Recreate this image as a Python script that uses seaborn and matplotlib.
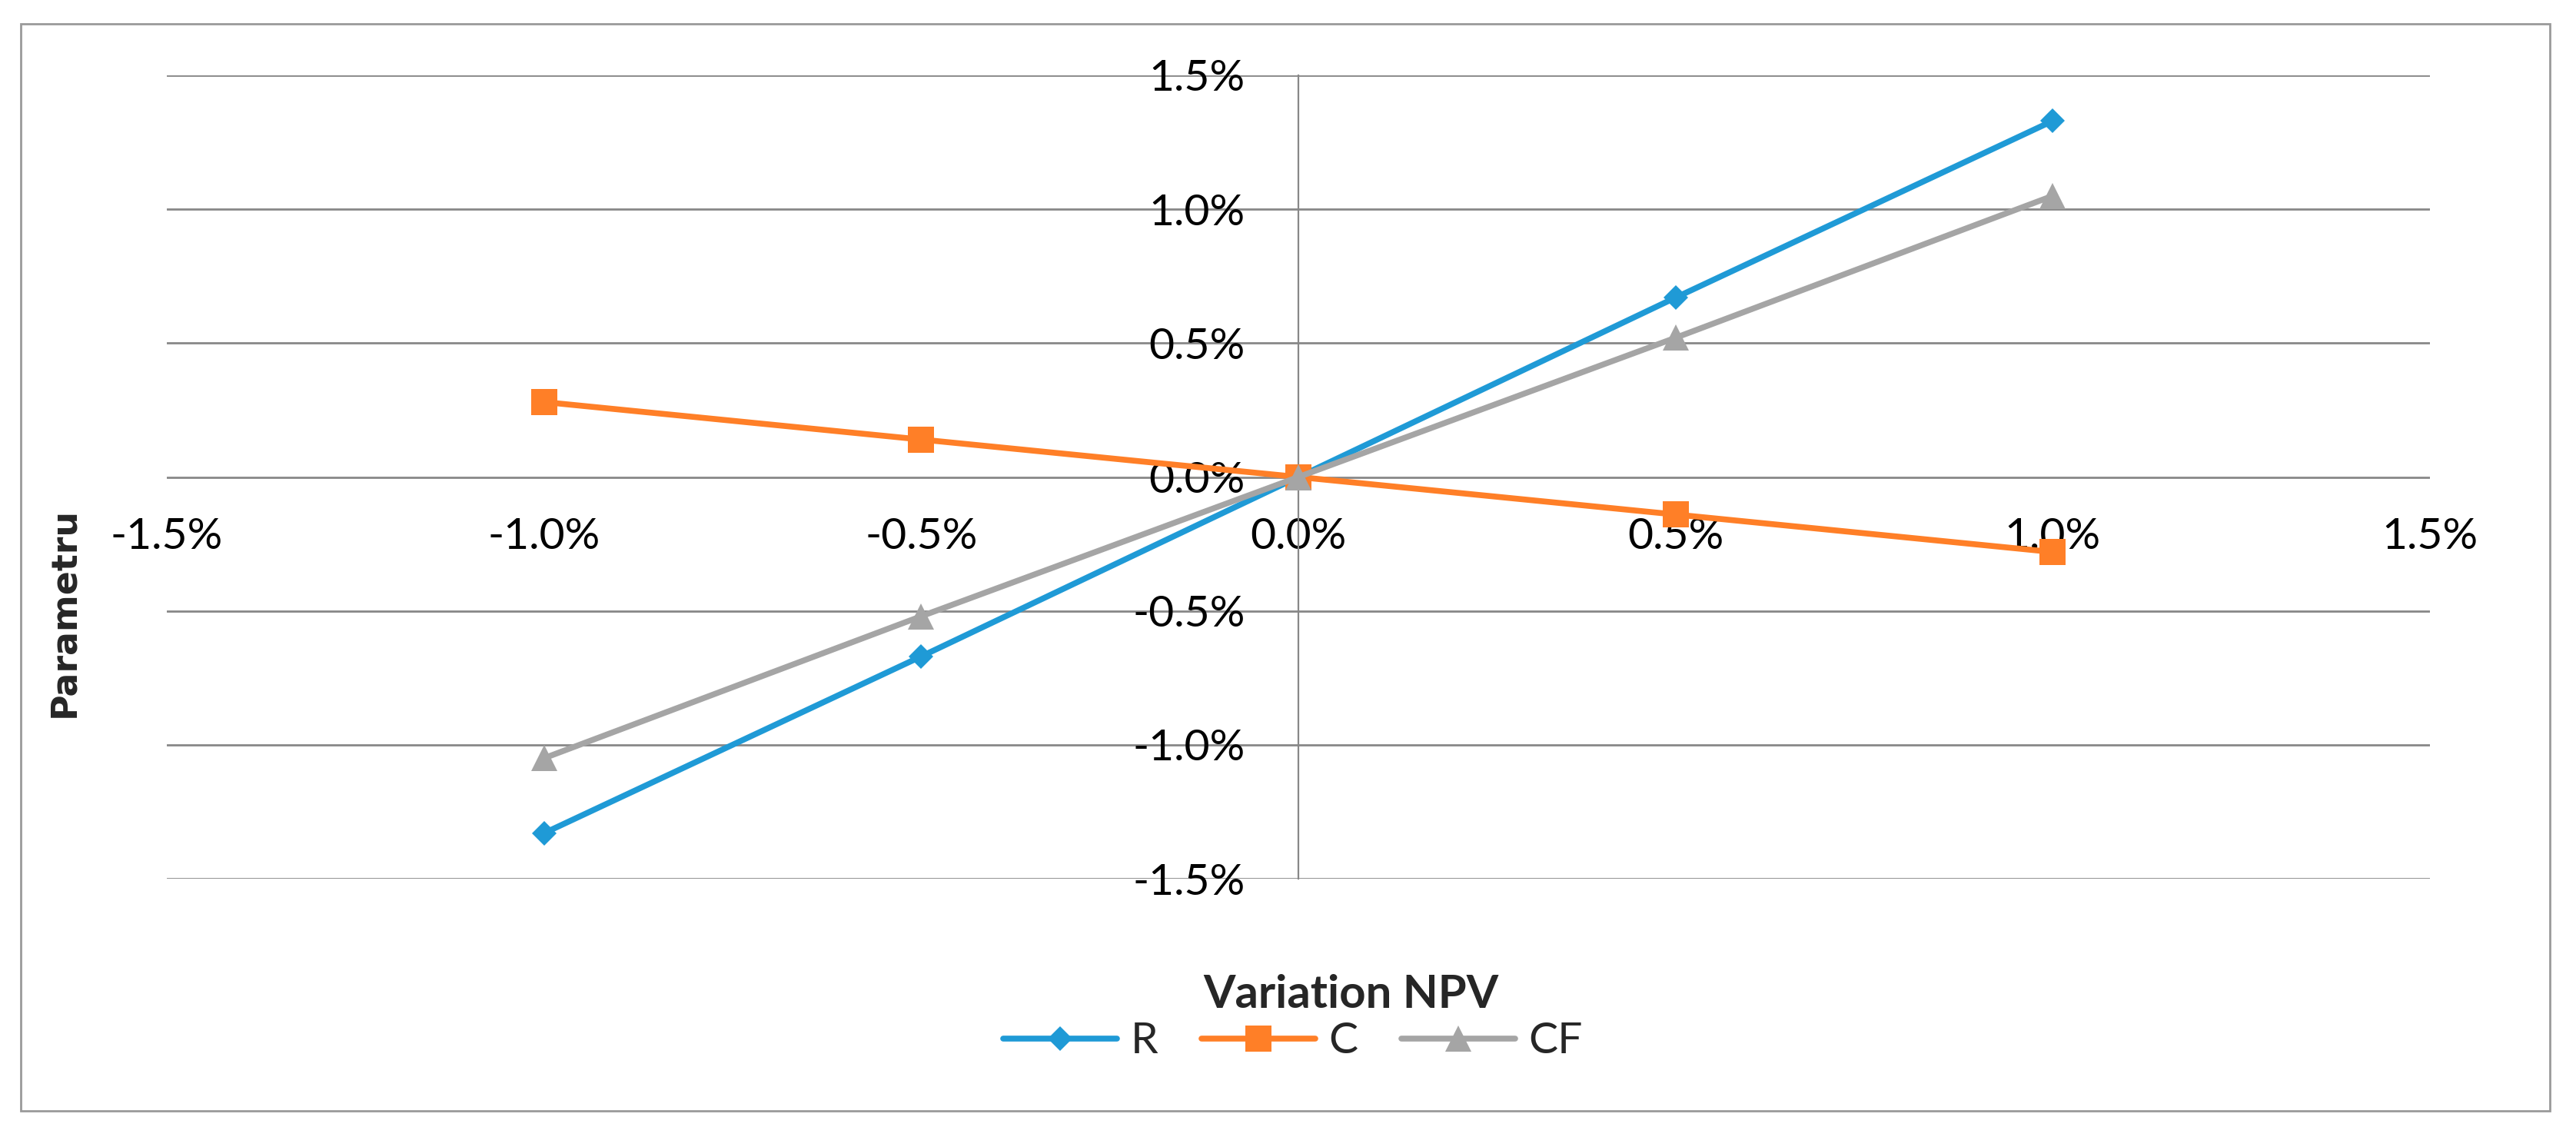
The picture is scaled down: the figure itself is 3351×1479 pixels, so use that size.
import pandas as pd
import seaborn as sns
import matplotlib.pyplot as plt
from matplotlib.ticker import PercentFormatter
from matplotlib.patches import Rectangle

# data (values in %)
x_var = [-1.0, -0.5, 0.0, 0.5, 1.0]
r_vals = [-1.33, -0.67, 0.0, 0.67, 1.33]
c_vals = [0.28, 0.14, 0.0, -0.14, -0.28]
cf_vals = [-1.05, -0.52, 0.0, 0.52, 1.05]
series_names = ["R", "C", "CF"]
tick_vals = [-1.5, -1.0, -0.5, 0.0, 0.5, 1.0, 1.5]

df = pd.DataFrame({"x": x_var, "R": r_vals, "C": c_vals, "CF": cf_vals})

sns.set_theme(style="white")
plt.rcParams["font.family"] = ["Lato", "DejaVu Sans"]
plt.rcParams["axes.unicode_minus"] = False

W, H = 3351, 1479
fig = plt.figure(figsize=(W / 100, H / 100), dpi=100)
ax = fig.add_axes([217 / W, 1 - 1143 / H, (3161 - 217) / W, (1143 - 98) / H])

styles = {
    "R": dict(color="#1F9AD6", marker="D", markersize=16),
    "C": dict(color="#FF7F27", marker="s", markersize=25),
    "CF": dict(color="#A5A5A5", marker="^", markersize=25),
}
for name in series_names:
    st = styles[name]
    sns.lineplot(data=df, x="x", y=name, ax=ax, color=st["color"], marker=st["marker"],
                 markersize=st["markersize"], markeredgewidth=0, linewidth=5.5,
                 label=name, zorder=3)
if ax.get_legend():
    ax.get_legend().remove()

ax.set_xlim(-1.5, 1.5)
ax.set_ylim(-1.5, 1.5)
ax.set_xticks(tick_vals)
ax.set_yticks(tick_vals)
ax.xaxis.set_major_formatter(PercentFormatter(xmax=100, decimals=1))
ax.yaxis.set_major_formatter(PercentFormatter(xmax=100, decimals=1))
ax.set_xlabel("")
ax.set_ylabel("")

gray = "#888888"
ax.yaxis.grid(True, color=gray, linewidth=2)
ax.xaxis.grid(False)
ax.set_axisbelow(True)
for s in ["top", "right"]:
    ax.spines[s].set_visible(False)
ax.spines["left"].set_position(("data", 0))
ax.spines["left"].set_color(gray)
ax.spines["left"].set_linewidth(1.6)
ax.spines["bottom"].set_position(("data", 0))
ax.spines["bottom"].set_visible(False)
ax.tick_params(axis="x", length=0, pad=38, labelsize=41, labelcolor="black")
ax.tick_params(axis="y", length=0, pad=50, labelsize=41, labelcolor="black")

fig.text(84 / W, 1 - 796 / H, "Parametru", rotation=90, ha="center", va="center",
         fontsize=33, fontweight="bold", family=["DejaVu Sans"])
fig.text(1757 / W, 1 - 1294 / H, "Variation NPV", ha="center", va="center",
         fontsize=43, fontweight="bold")

handles, labels = ax.get_legend_handles_labels()
fig.legend(handles, labels, loc="center", bbox_to_anchor=(1682 / W, 1 - 1355 / H),
           ncol=3, frameon=False, fontsize=41, handlelength=2.6, handletextpad=0.3,
           columnspacing=1.0)

fig.patches.append(Rectangle((27 / W, 1 - 1445 / H), (3317 - 27) / W, (1445 - 31) / H,
                             transform=fig.transFigure, fill=False, edgecolor="#9A9A9A",
                             linewidth=2))

fig.savefig("out.png", dpi=100)
